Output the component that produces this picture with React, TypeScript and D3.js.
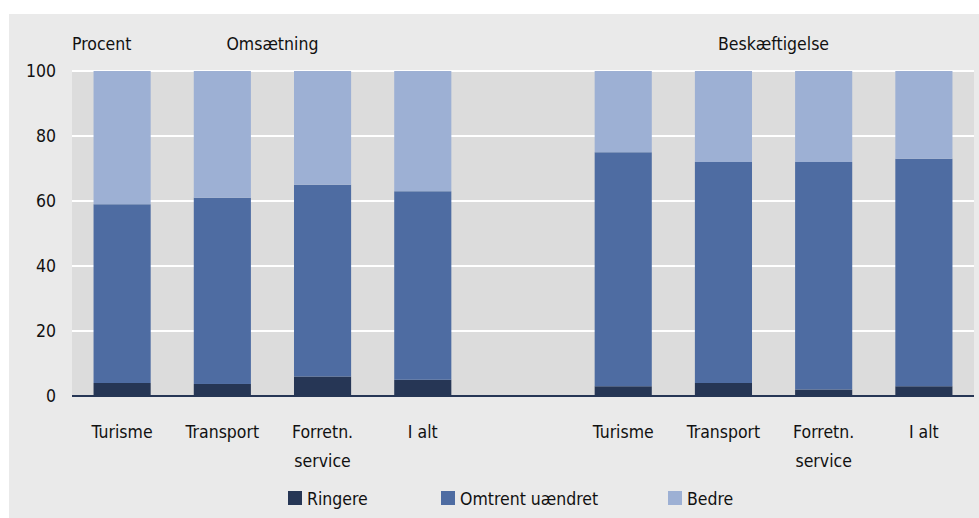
import React from "react";
import * as d3 from "d3";

const categories = ["Turisme", "Transport", "Forretn.\nservice", "I alt"];
const groups = ["Omsætning", "Beskæftigelse"];
const seriesNames = ["Ringere", "Omtrent uændret", "Bedre"];
const omsRingere = [4, 3.7, 6, 5];
const omsOmtrent = [55, 57.3, 59, 58];
const omsBedre = [41, 39, 35, 37];
const beskRingere = [3, 4, 2, 3];
const beskOmtrent = [72, 68, 70, 70];
const beskBedre = [25, 28, 28, 27];
const yTicks = [0, 20, 40, 60, 80, 100];
const colors = ["#263655", "#4e6ca2", "#9db0d4"];

const W = 979;
const H = 518;
const FONT = "'DejaVu Sans Condensed', 'DejaVu Sans', sans-serif";
const FS = 17.5;
const TXT = "#111111";

type Row = { key: string; label: string; Ringere: number; "Omtrent uændret": number; Bedre: number };

const rows: Row[] = [];
groups.forEach((g, gi) => {
  const r = gi === 0 ? omsRingere : beskRingere;
  const o = gi === 0 ? omsOmtrent : beskOmtrent;
  const b = gi === 0 ? omsBedre : beskBedre;
  categories.forEach((c, i) => {
    rows.push({ key: g + "|" + c, label: c, Ringere: r[i], "Omtrent uændret": o[i], Bedre: b[i] });
  });
});

const domainKeys = [
  ...categories.map((c) => groups[0] + "|" + c),
  "gap",
  ...categories.map((c) => groups[1] + "|" + c),
];

export default function App() {
  const x = d3.scaleBand<string>().domain(domainKeys).range([72, 974]).paddingInner(0.43).paddingOuter(0.215);
  const y = d3.scaleLinear().domain([0, 100]).range([396, 71]);
  const stack = d3.stack<Row>().keys(seriesNames);
  const stacked = stack(rows);

  const groupCenter = (g: string) => {
    const a = x(g + "|" + categories[0])!;
    const b = x(g + "|" + categories[categories.length - 1])!;
    return (a + b + x.bandwidth()) / 2;
  };

  const legendX = [288, 441, 668];

  return (
    <svg width={W} height={H} style={{ position: "absolute", left: 0, top: 0 }} fontFamily={FONT}>
      <rect x={0} y={0} width={W} height={H} fill="#ffffff" />
      <rect x={9} y={14} width={W - 9} height={H - 14} fill="#eaeaea" />
      <rect x={72} y={y(100)} width={974 - 72} height={y(0) - y(100)} fill="#dcdcdc" />
      {yTicks.filter((t) => t > 0).map((t) => (
        <line key={t} x1={72} x2={974} y1={y(t)} y2={y(t)} stroke="#ffffff" strokeWidth={2} />
      ))}
      {stacked.map((s, si) => (
        <g key={s.key} fill={colors[si]}>
          {s.map((d) => (
            <rect
              key={d.data.key}
              x={x(d.data.key)}
              y={y(d[1])}
              width={x.bandwidth()}
              height={y(d[0]) - y(d[1])}
            />
          ))}
        </g>
      ))}
      <line x1={72} x2={974} y1={y(0)} y2={y(0)} stroke="#263655" strokeWidth={2} />
      {yTicks.map((t) => (
        <text key={t} x={56} y={y(t)} dy="0.35em" textAnchor="end" fontSize={FS} fill={TXT}>
          {t}
        </text>
      ))}
      <text x={72} y={50} fontSize={FS} fill={TXT}>Procent</text>
      {groups.map((g) => (
        <text key={g} x={groupCenter(g)} y={50} textAnchor="middle" fontSize={FS} fill={TXT}>
          {g}
        </text>
      ))}
      {rows.map((r) => (
        <text key={r.key} x={x(r.key)! + x.bandwidth() / 2} y={438} textAnchor="middle" fontSize={FS} fill={TXT}>
          {r.label.split("\n").map((line, li) => (
            <tspan key={li} x={x(r.key)! + x.bandwidth() / 2} dy={li === 0 ? 0 : 29}>
              {line}
            </tspan>
          ))}
        </text>
      ))}
      {seriesNames.map((n, i) => (
        <g key={n}>
          <rect x={legendX[i]} y={491} width={14} height={14} fill={colors[i]} />
          <text x={legendX[i] + 19} y={505} fontSize={FS} fill={TXT}>{n}</text>
        </g>
      ))}
    </svg>
  );
}
